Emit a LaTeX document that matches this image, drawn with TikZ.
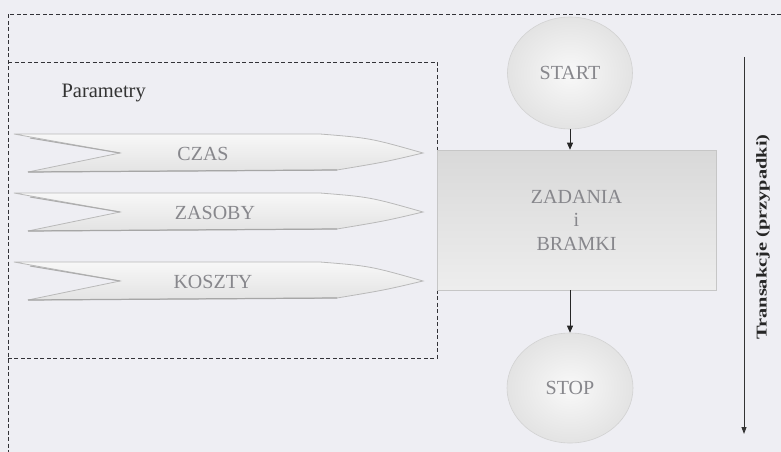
\documentclass[tikz,border=0pt]{standalone}
\usepackage{fontspec}
\setmainfont{Liberation Serif}
\usetikzlibrary{arrows.meta,shapes.geometric}
\definecolor{bgc}{RGB}{238,238,243}
\definecolor{framec}{RGB}{50,50,55}
\definecolor{labc}{RGB}{135,135,140}
\tikzset{
  frame/.style={draw=framec,line width=0.8pt,dash pattern=on 4pt off 2.5pt},
  lab/.style={text=labc,font=\fontsize{20}{23.5}\selectfont},
  param/.style={top color=gray!6,bottom color=gray!22,draw=gray!55,line width=0.8pt},
  rnd/.style={ellipse,inner color=gray!5,outer color=gray!22,draw=gray!35,line width=0.6pt,
    minimum width=125pt,minimum height=112pt,lab},
  task/.style={rectangle,top color=gray!30,bottom color=gray!14,draw=gray!45,line width=0.6pt,
    minimum width=279pt,minimum height=140pt,align=center,lab},
  arr/.style={draw=black!85,line width=0.8pt,-{Triangle[length=7pt,width=6pt]}},
}
\begin{document}
\begin{tikzpicture}[x=1pt,y=-1pt]
\fill[bgc] (0,0) rectangle (781,452);
\useasboundingbox (0,0) rectangle (781,452);
% outer frame
\draw[frame] (781,14) -- (8,14) -- (8,452);
% inner frame
\draw[frame] (8,62) -- (437,62) -- (437,358) -- (8,358);
\node[anchor=west,font=\fontsize{20.5}{24}\selectfont,text=black!80] (par) at (58,93) {Parametry};
% parameter shapes
\foreach \yc/\nm/\tx/\lx in {153/czas/CZAS/203, 212/zas/ZASOBY/215, 281/kosz/KOSZTY/213}{
  \path[param] (14,\yc-19) -- (320,\yc-19) .. controls (370,\yc-15) .. (423,\yc)
     .. controls (385,\yc+9) .. (337,\yc+17) -- (28,\yc+19) -- (120,\yc) -- cycle;
  \draw[gray!70,line width=1.2pt] (28,\yc+19) -- (337,\yc+17);
  \draw[gray!65,line width=1pt] (30,\yc-15) -- (120,\yc);
  \node[lab] (\nm) at (\lx,\yc+1) {\tx};
}
% flow
\node[rnd] (start) at (570,73) {START};
\node[task] (box) at (576.5,220) {ZADANIA\\i\\BRAMKI};
\node[rnd,minimum width=126pt,minimum height=110pt] (stop) at (570,388) {STOP};
\draw[arr] (start.south) -- (start.south |- box.north);
\draw[arr] (box.south -| stop.north) -- (stop.north);
% transactions axis
\coordinate (ta) at (744,57);
\coordinate (tb) at (744,434);
\draw[draw=black!80,line width=0.9pt,-{Triangle[length=7pt,width=5pt]}] (ta) -- (tb);
\node[rotate=90,text=black!85] (trans) at (763,237)
  {\scalebox{1.36}[1]{\fontsize{15}{17}\selectfont\bfseries Transakcje (przypadki)}};
\end{tikzpicture}
\end{document}
